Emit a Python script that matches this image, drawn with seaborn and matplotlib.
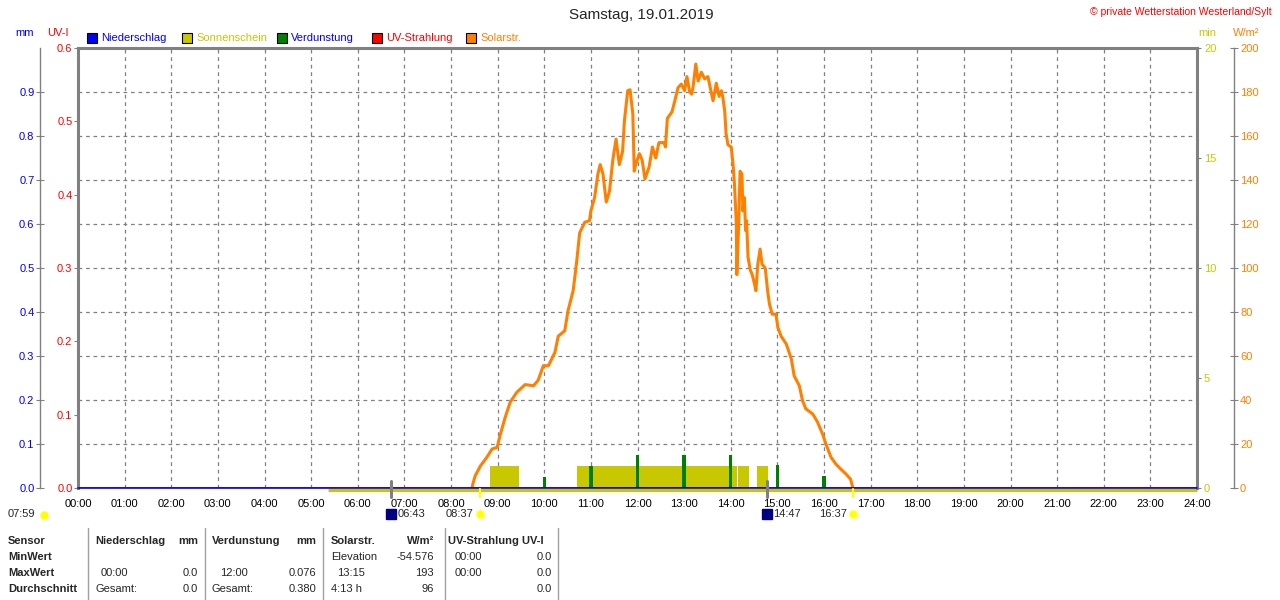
import matplotlib
matplotlib.use("Agg")
import matplotlib.pyplot as plt
import matplotlib.transforms as mtransforms
from matplotlib.lines import Line2D
from matplotlib.patches import Rectangle
import seaborn as sns
import pandas as pd

# ---- data ----
solar_hour = [8.45, 8.47, 8.52, 8.63, 8.77, 8.88, 8.99, 9.06, 9.16, 9.27, 9.41, 9.59, 9.77, 9.87,
              9.98, 10.09, 10.23, 10.30, 10.44, 10.51, 10.62, 10.69, 10.76, 10.87, 10.97, 11.00,
              11.08, 11.15, 11.20, 11.26, 11.33, 11.40, 11.47, 11.54, 11.61, 11.68, 11.72, 11.79,
              11.84, 11.90, 11.93, 11.96, 12.04, 12.10, 12.16, 12.25, 12.32, 12.39, 12.46, 12.57,
              12.60, 12.64, 12.74, 12.80, 12.87, 12.94, 13.01, 13.06, 13.12, 13.16, 13.19, 13.25,
              13.30, 13.37, 13.44, 13.51, 13.55, 13.62, 13.69, 13.75, 13.80, 13.83, 13.87, 13.90,
              13.94, 14.01, 14.05, 14.08, 14.12, 14.13, 14.17, 14.20, 14.24, 14.26, 14.29, 14.32,
              14.34, 14.37, 14.42, 14.46, 14.51, 14.54, 14.58, 14.63, 14.67, 14.74, 14.79, 14.83,
              14.89, 14.97, 15.01, 15.08, 15.19, 15.30, 15.36, 15.47, 15.54, 15.61, 15.76, 15.86,
              15.97, 16.04, 16.15, 16.25, 16.36, 16.47, 16.57, 16.62]
solar_wm2 = [0, 2, 5.6, 10, 14, 17.7, 18.5, 24.5, 32, 39, 43.5, 47, 46.5, 49,
             55.6, 55.6, 61.7, 69, 71.5, 80.6, 89.7, 101.8, 116, 120.8, 121.5, 126,
             132, 142.7, 147, 142.7, 130, 135, 149, 158.6, 147, 153, 167, 180.6,
             181, 170, 144, 147, 152, 149, 140.5, 146, 155, 150, 157, 157,
             155, 168, 171, 176, 182, 183.6, 180.6, 187, 180, 179, 182, 192.7,
             185, 189, 186, 187, 183, 176, 184, 178, 180.6, 177.6, 171.5, 161,
             156, 155, 147, 138, 120, 97, 120, 144, 142.7, 126, 132, 117,
             121.5, 105, 99, 97, 92.7, 89.7, 101.8, 108.6, 101.8, 100, 89.7, 83.6,
             79, 79, 73, 69, 65.5, 58.6, 51, 46.5, 39.7, 36, 33.6, 30,
             24.5, 20, 14, 11, 8.6, 6.4, 4, 0]

sun_start = [8.84, 10.71, 14.16, 14.56]
sun_end = [9.46, 14.13, 14.39, 14.79]
sun_min = [1, 1, 1, 1]
daylight_start = 5.37

evap_hour = [10, 11, 12, 13, 14, 15, 16]
evap_mm = [0.025, 0.050, 0.076, 0.075, 0.075, 0.052, 0.027]

rain_hour = [0, 24]
rain_mm = [0.0, 0.0]
uv_hour = [0, 24]
uv_index = [0.0, 0.0]

moon_events = [6 + 43 / 60, 14 + 47 / 60]
sun_events = [8 + 37 / 60, 16 + 37 / 60]
day_length = "07:59"

hour_labels = ["%02d:00" % h for h in range(25)]
legend_names = ["Niederschlag", "Sonnenschein", "Verdunstung", "UV-Strahlung", "Solarstr."]

C_BLUE = "#0000ff"
C_OLIVE = "#c8c800"
C_GREEN = "#008000"
C_RED = "#ff0000"
C_ORANGE = "#ff8000"
C_GRAY = "#808080"
legend_colors = [C_BLUE, C_OLIVE, C_GREEN, C_RED, C_ORANGE]
legend_text_colors = [C_BLUE, C_OLIVE, C_BLUE, C_RED, C_ORANGE]

sns.set_style("white")
plt.rcParams["font.family"] = ["Liberation Sans", "DejaVu Sans"]
plt.rcParams["font.size"] = 8

W, H = 1280, 600
fig = plt.figure(figsize=(12.8, 6), dpi=100)


def fx(px):
    return px / W


def fy(py):
    return 1 - py / H


def hhmm(h):
    return "%02d:%02d" % (int(h), round((h % 1) * 60))


ax = fig.add_axes([fx(78), fy(488), fx(1197) - fx(78), fy(48) - fy(488)])
ax_min = ax.twinx()
ax_uv = ax.twinx()
ax_mm = ax.twinx()

# base axis: W/m2 with grid
ax.set_xlim(0, 24)
ax.set_ylim(0, 200)
ax.set_xticks(range(25))
ax.set_xticklabels(hour_labels)
ax.set_yticks(range(0, 201, 20))
ax.grid(True, color=C_GRAY, linestyle=(0, (3, 3)), linewidth=0.9)
ax.set_axisbelow(True)
ax.tick_params(axis="x", length=0, pad=8, labelsize=8, labelcolor="black")
ax.yaxis.tick_right()
ax.spines["right"].set_position(("axes", 1.0335))
ax.spines["right"].set_color(C_GRAY)
ax.spines["right"].set_linewidth(1)
ax.tick_params(axis="y", direction="inout", length=6, color=C_GRAY, labelcolor=C_ORANGE,
               labelsize=8, pad=1)
ax.spines["left"].set_visible(False)
ax.spines["bottom"].set_visible(False)
ax.spines["top"].set_color(C_GRAY)
ax.spines["top"].set_linewidth(2.2)

df = pd.DataFrame({"hour": solar_hour, "wm2": solar_wm2})
sns.lineplot(data=df, x="hour", y="wm2", ax=ax, color=C_ORANGE, linewidth=2.2,
             estimator=None, sort=False)
ax.set_xlabel("")
ax.set_ylabel("")

# sunshine minutes (right main spine)
ax_min.set_ylim(0, 20)
ax_min.set_yticks([0, 5, 10, 15, 20])
ax_min.tick_params(axis="y", length=3, color=C_GRAY, labelcolor=C_OLIVE, labelsize=8, pad=2)
for s in ["left", "top", "bottom"]:
    ax_min.spines[s].set_visible(False)
ax_min.spines["right"].set_color(C_GRAY)
ax_min.spines["right"].set_linewidth(2.2)
ax_min.bar(sun_start, sun_min, width=[e - s for s, e in zip(sun_start, sun_end)],
           align="edge", color=C_OLIVE, linewidth=0)
ax_min.plot([daylight_start, 24], [-0.09, -0.09], color=C_OLIVE, linewidth=2.2,
            clip_on=False, solid_capstyle="butt")

# UV index (left main spine)
ax_uv.yaxis.tick_left()
ax_uv.set_ylim(0, 0.6)
ax_uv.set_yticks([0, 0.1, 0.2, 0.3, 0.4, 0.5, 0.6])
ax_uv.set_yticklabels(["%.1f" % v for v in [0, 0.1, 0.2, 0.3, 0.4, 0.5, 0.6]])
ax_uv.tick_params(axis="y", length=3, color=C_GRAY, labelcolor=C_RED, labelsize=8, pad=1)
for s in ["right", "top", "bottom"]:
    ax_uv.spines[s].set_visible(False)
ax_uv.spines["left"].set_color(C_GRAY)
ax_uv.spines["left"].set_linewidth(2.2)
ax_uv.plot(uv_hour, uv_index, color=C_RED, linewidth=1.2)

# rain / evaporation in mm (offset left axis)
ax_mm.yaxis.tick_left()
ax_mm.set_ylim(0, 1.0)
mm_ticks = [i / 10 for i in range(10)]
ax_mm.set_yticks(mm_ticks)
ax_mm.set_yticklabels(["%.1f" % v for v in mm_ticks])
ax_mm.spines["left"].set_position(("axes", -0.034))
ax_mm.spines["left"].set_color(C_GRAY)
ax_mm.spines["left"].set_linewidth(1)
for s in ["right", "top", "bottom"]:
    ax_mm.spines[s].set_visible(False)
ax_mm.tick_params(axis="y", direction="inout", length=6, color=C_GRAY, labelcolor=C_BLUE,
                  labelsize=8, pad=1)
ax_mm.bar(evap_hour, evap_mm, width=0.07, color=C_GREEN, linewidth=0)
ax_mm.plot(rain_hour, rain_mm, color=C_BLUE, linewidth=1.2, clip_on=False)

# ---- header texts ----
fig.text(fx(641), fy(15), "Samstag, 19.01.2019", ha="center", va="center", fontsize=11)
fig.text(fx(1272), fy(12), "\u00a9 private Wetterstation Westerland/Sylt", ha="right",
         va="center", fontsize=7.5, color=C_RED)
fig.text(fx(15), fy(33), "mm", ha="left", va="center", color=C_BLUE)
fig.text(fx(47), fy(33), "UV-I", ha="left", va="center", color=C_RED)
fig.text(fx(1198), fy(33), "min", ha="left", va="center", color=C_OLIVE)
fig.text(fx(1233), fy(33), "W/m\u00b2", ha="left", va="center", color=C_ORANGE)

legend_x = [87, 182, 277, 372, 466]
for lx, name, c, tc in zip(legend_x, legend_names, legend_colors, legend_text_colors):
    fig.add_artist(Rectangle((fx(lx), fy(43)), 10 / W, 10 / H, facecolor=c,
                             edgecolor="black", linewidth=0.8, transform=fig.transFigure))
    fig.text(fx(lx + 14), fy(38), name, ha="left", va="center", color=tc)

# ---- rise / set markers below the axis ----
trans = mtransforms.blended_transform_factory(ax.transData, fig.transFigure)
for h in moon_events:
    fig.add_artist(Line2D([h, h], [fy(481), fy(497)], color=C_GRAY, linewidth=2.2,
                          transform=trans))
    fig.add_artist(Line2D([h], [fy(514)], marker="s", markersize=7, color="#000080",
                          markeredgecolor="#000080",
                          transform=mtransforms.offset_copy(trans, fig=fig, x=0, units="dots")))
    fig.text(h, fy(514), hhmm(h), ha="left", va="center",
             transform=mtransforms.offset_copy(trans, fig=fig, x=6, units="dots"))
for h in sun_events:
    fig.add_artist(Line2D([h, h], [fy(489), fy(497)], color="#ffff00", linewidth=1.6,
                          transform=trans))
    fig.add_artist(Line2D([h], [fy(514)], marker="o", markersize=6, color="#ffff00",
                          markeredgecolor="#ffff80", transform=trans))
    fig.text(h, fy(514), hhmm(h), ha="right", va="center",
             transform=mtransforms.offset_copy(trans, fig=fig, x=-6, units="dots"))
fig.text(fx(8), fy(514), day_length, ha="left", va="center")
fig.add_artist(Line2D([fx(44)], [fy(515)], marker="o", markersize=5, color="#ffff00",
                      transform=fig.transFigure))

# ---- summary table ----
for lx in [88, 205, 323, 445, 558]:
    fig.add_artist(Line2D([fx(lx), fx(lx)], [fy(528), fy(600)], color="#a0a0a0",
                          linewidth=1, transform=fig.transFigure))

rows_y = [541, 557, 573, 589]
row_names = ["Sensor", "MinWert", "MaxWert", "Durchschnitt"]
for t, y in zip(row_names, rows_y):
    fig.text(fx(8), fy(y), t, ha="left", va="center", fontweight="bold")
headers = [(95, "Niederschlag", "left"), (198, "mm", "right"), (212, "Verdunstung", "left"),
           (316, "mm", "right"), (331, "Solarstr.", "left"), (434, "W/m\u00b2", "right"),
           (448, "UV-Strahlung UV-I", "left")]
for x, t, a in headers:
    fig.text(fx(x), fy(541), t, ha=a, va="center", fontweight="bold")
cells = [
    (331, 557, "Elevation", "left"), (434, 557, "-54.576", "right"),
    (455, 557, "00:00", "left"), (552, 557, "0.0", "right"),
    (101, 573, "00:00", "left"), (198, 573, "0.0", "right"),
    (220, 573, "12:00", "left"), (316, 573, "0.076", "right"),
    (337, 573, "13:15", "left"), (434, 573, "193", "right"),
    (455, 573, "00:00", "left"), (552, 573, "0.0", "right"),
    (95, 589, "Gesamt:", "left"), (198, 589, "0.0", "right"),
    (212, 589, "Gesamt:", "left"), (316, 589, "0.380", "right"),
    (331, 589, "4:13 h", "left"), (434, 589, "96", "right"),
    (552, 589, "0.0", "right"),
]
for x, y, t, a in cells:
    fig.text(fx(x), fy(y), t, ha=a, va="center")

fig.savefig("out.png", dpi=100)
